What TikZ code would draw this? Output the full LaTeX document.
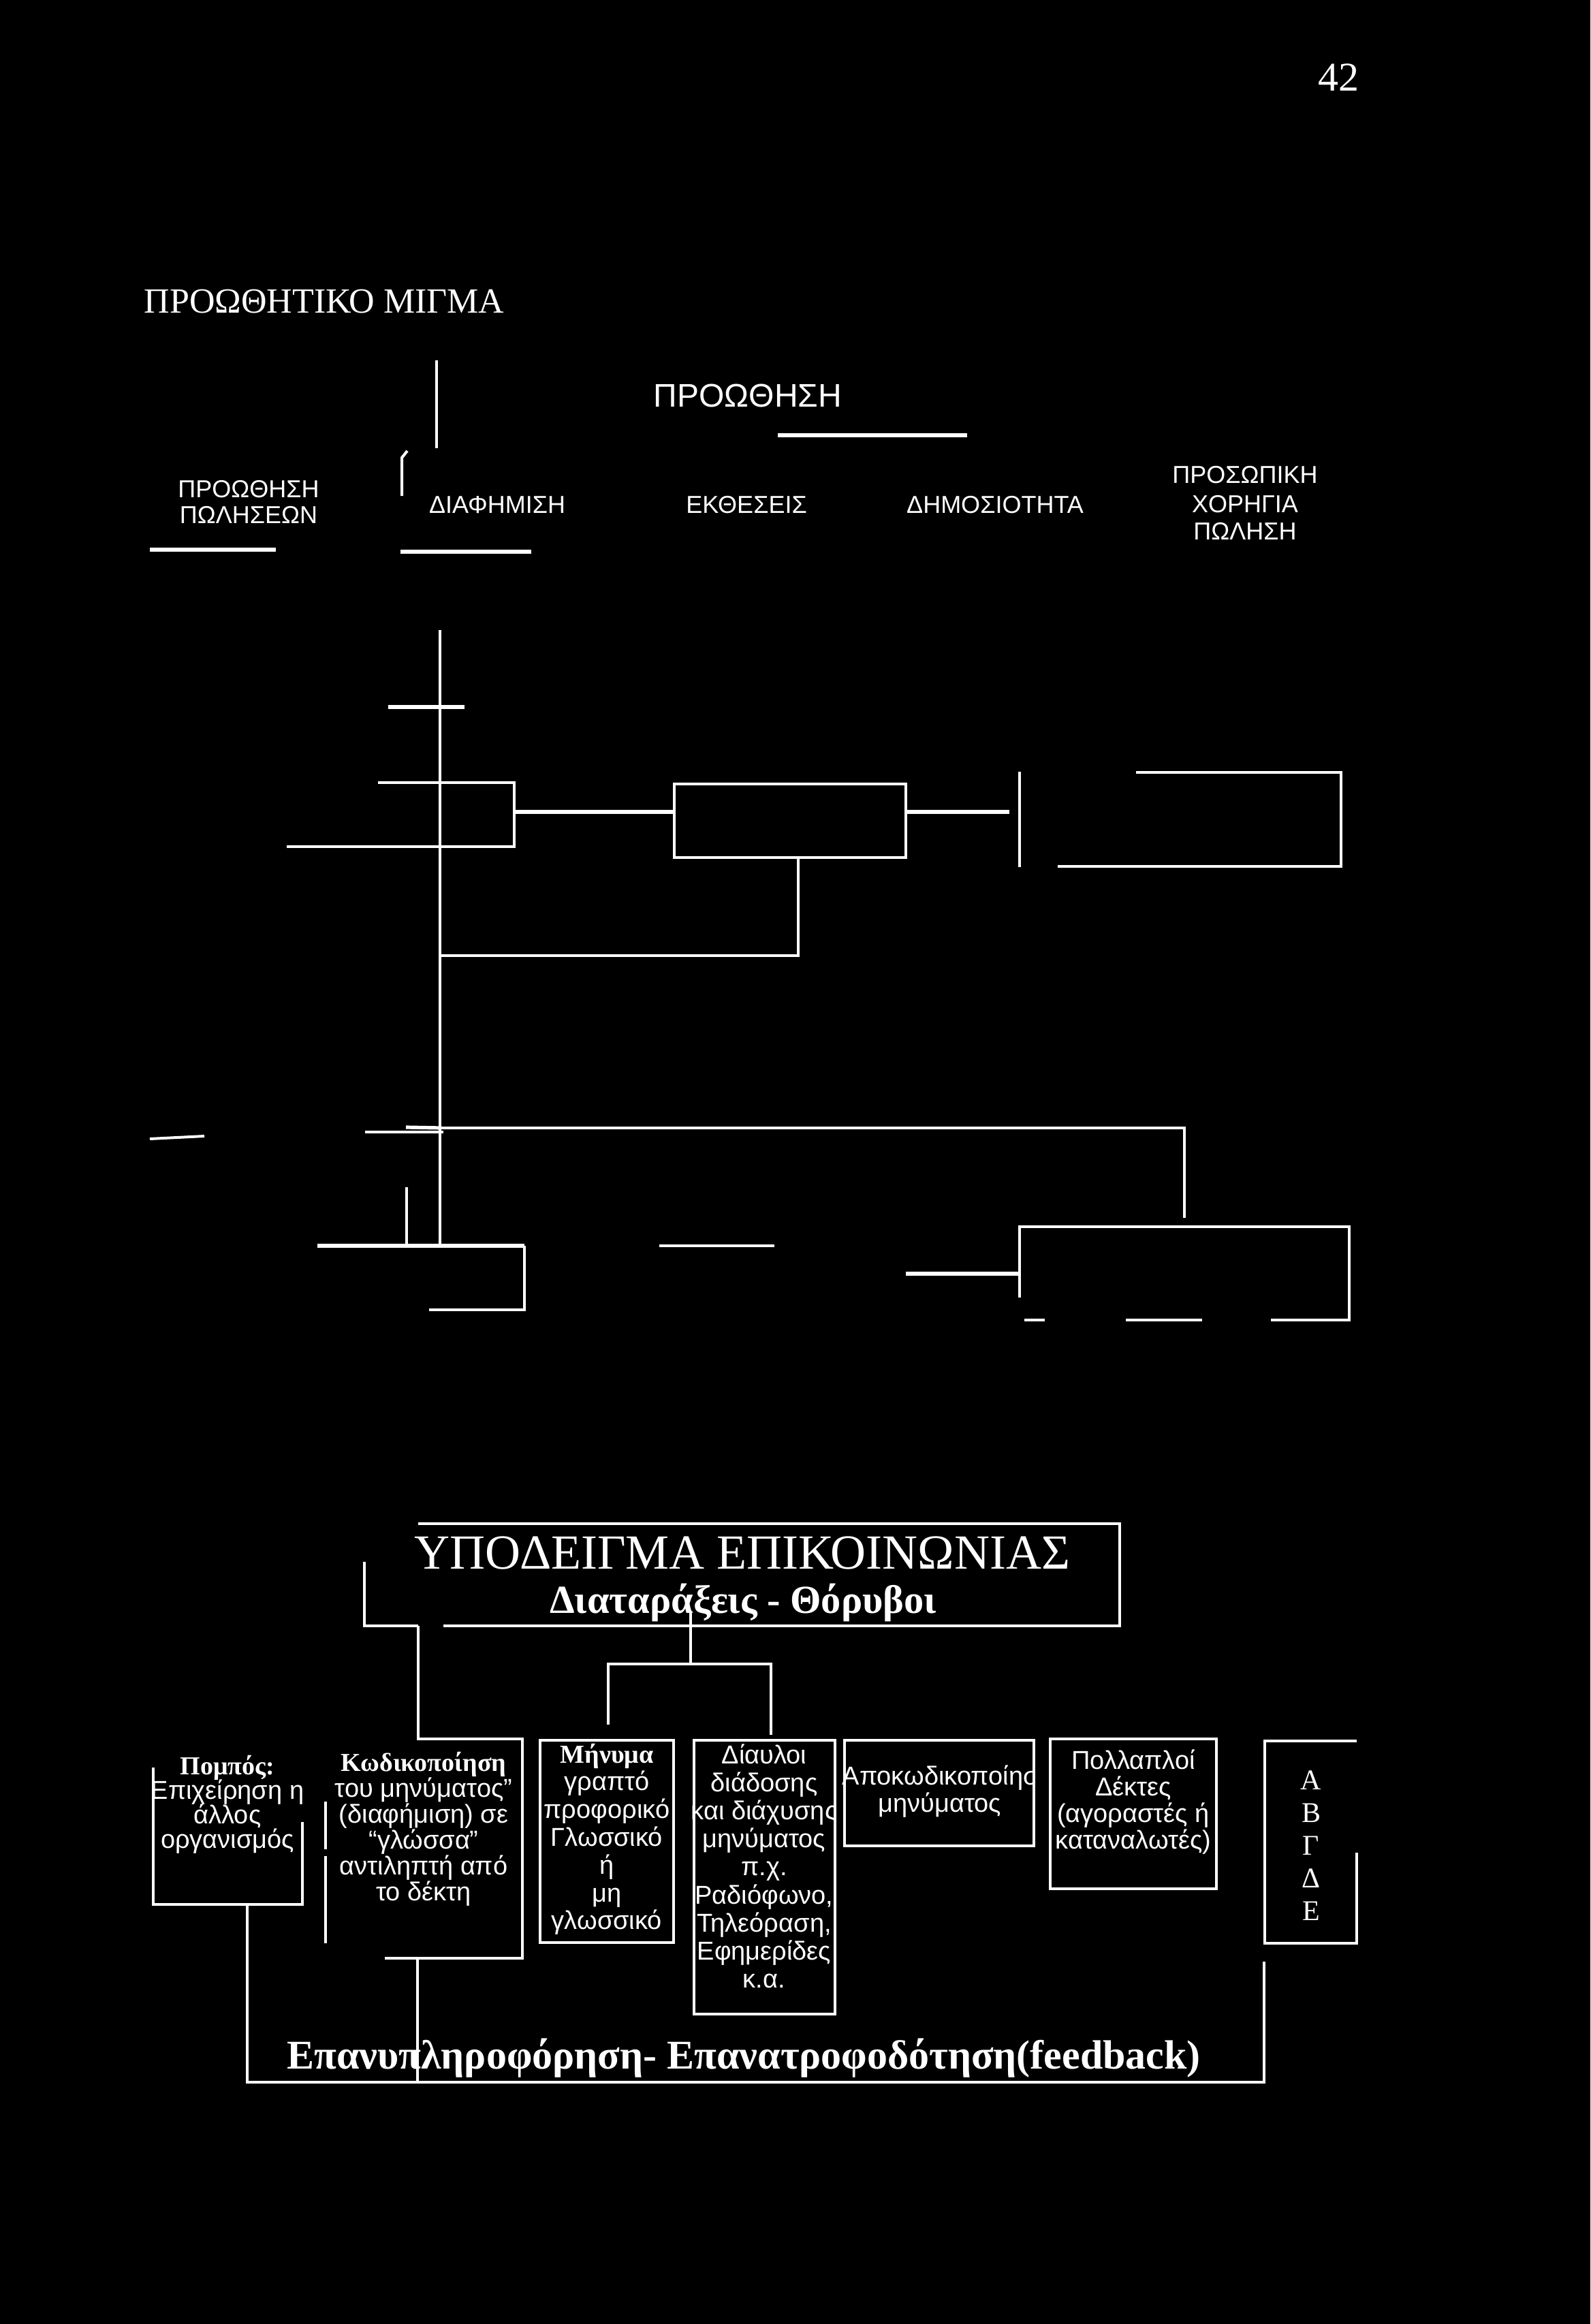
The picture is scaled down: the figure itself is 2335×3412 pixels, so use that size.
\documentclass[tikz,border=0pt]{standalone}
\usepackage{fontspec}
\setmainfont{Liberation Serif}
\setsansfont{Liberation Sans}
\usetikzlibrary{fit}
\begin{document}
\begin{tikzpicture}[x=0.25pt,y=-0.25pt,
  ln/.style={draw=white, line width=1pt},
  bx/.style={draw=white, line width=1.1pt, inner sep=0pt},
  lbl/.style={text=white, inner sep=0pt, anchor=base},
  sansS/.style={lbl, font=\fontsize{9}{10}\selectfont\sffamily},
  sansM/.style={lbl, font=\fontsize{9.5}{11}\selectfont\sffamily},
  serB/.style={lbl, font=\fontsize{9.5}{11}\selectfont\bfseries},
  serR/.style={lbl, font=\fontsize{10.5}{12}\selectfont}]
\fill[black] (0,0) rectangle (2335,3412);
\useasboundingbox (0,0) rectangle (2335,3412);

% ---------- top texts
\node[lbl, font=\fontsize{15}{16}\selectfont] (pnum) at (1965,134) {42};
\node[lbl, anchor=base west, font=\fontsize{13}{14}\selectfont] (title) at (211,460) {ΠΡΟΩΘΗΤΙΚΟ ΜΙΓΜΑ};
\node[lbl, font=\fontsize{12}{13}\selectfont\sffamily] (prom) at (1098,598) {ΠΡΟΩΘΗΣΗ};
\node[sansS] (pp1) at (365,730) {ΠΡΟΩΘΗΣΗ};
\node[sansS] (pp2) at (365,768) {ΠΩΛΗΣΕΩΝ};
\node[sansS] (diaf) at (730,753) {ΔΙΑΦΗΜΙΣΗ};
\node[sansS] (ekth) at (1096,753) {ΕΚΘΕΣΕΙΣ};
\node[sansS] (dimo) at (1461,753) {ΔΗΜΟΣΙΟΤΗΤΑ};
\node[sansS] (pr1) at (1828,710) {ΠΡΟΣΩΠΙΚΗ};
\node[sansS] (pr2) at (1828,752) {ΧΟΡΗΓΙΑ};
\node[sansS] (pr3) at (1828,792) {ΠΩΛΗΣΗ};

% ---------- top lines
\coordinate (a1) at (641,529); \coordinate (a2) at (641,658);
\draw[ln] (a1) -- (a2);
\coordinate (h1) at (590,728); \coordinate (h2) at (598,662);
\draw[ln] (h1) -- (590,672) -- (h2);
\coordinate (u1) at (1142,639); \coordinate (u2) at (1420,639);
\draw[ln, line width=1.3pt] (u1) -- (u2);
\coordinate (u3) at (220,807); \coordinate (u4) at (405,807);
\draw[ln, line width=1.3pt] (u3) -- (u4);
\coordinate (u5) at (588,810); \coordinate (u6) at (780,810);
\draw[ln, line width=1.3pt] (u5) -- (u6);

% ---------- middle diagram
\coordinate (m1) at (646,925); \coordinate (m2) at (646,1828);
\draw[ln] (m1) -- (m2);
\coordinate (k1) at (570,1038); \coordinate (k2) at (682,1038);
\draw[ln, line width=1.3pt] (k1) -- (k2);
% box 1 (open)
\coordinate (b1a) at (555,1149); \coordinate (b1b) at (755,1149);
\coordinate (b1c) at (755,1243); \coordinate (b1d) at (421,1243);
\draw[ln] (b1a) -- (b1b) -- (b1c) -- (b1d);
% box 2
\node[bx, fit={(990,1151)(1330,1259)}] (b2) {};
\draw[ln, line width=1.3pt] (755,1192) -- (b2.west |- 755,1192);
\coordinate (b2d) at (1172,1403);
\draw[ln] (b2.south -| b2d) -- (b2d) -- (646,1403);
% box 3 (partial)
\coordinate (b3l1) at (1497,1133); \coordinate (b3l2) at (1497,1273);
\draw[ln] (b3l1) -- (b3l2);
\draw[ln] (1668,1134) -- (1969,1134) -- (1969,1272) -- (1553,1272);
\draw[ln, line width=1.3pt] (b2.east |- 1330,1192) -- (1482,1192);

% lower-middle
\coordinate (n1) at (648,1656); \coordinate (n2) at (1739,1656); \coordinate (n3) at (1739,1788);
\draw[ln] (n1) -- (n2) -- (n3);
\draw[ln, line width=1.3pt] (596,1655) -- (n1);
\draw[ln] (536,1662) -- (651,1662);
\draw[ln] (220,1672) -- (300,1668);
\coordinate (s1) at (597,1743); \coordinate (s2) at (597,1828);
\draw[ln] (s1) -- (s2);
\coordinate (c1) at (466,1829); \coordinate (c2) at (770,1829);
\coordinate (c3) at (770,1923); \coordinate (c4) at (630,1923);
\draw[ln, line width=1.3pt] (c1) -- (c2);
\draw[ln] (c2) -- (c3) -- (c4);
\draw[ln, line width=0.8pt] (968,1829) -- (1137,1829);
% right box (partial)
\coordinate (r1) at (1497,1905); \coordinate (r2) at (1497,1801);
\coordinate (r3) at (1981,1801); \coordinate (r4) at (1981,1940);
\draw[ln] (r1) -- (r2) -- (r3) -- (r4);
\draw[ln] (1504,1938) -- (1534,1938);
\draw[ln] (1653,1938) -- (1765,1938);
\draw[ln] (1866,1938) -- (1981,1938);
\coordinate (r5) at (1330,1870);
\draw[ln, line width=1.4pt] (r5) -- (r2 |- r5);

% ---------- communication model
\draw[ln] (651,2387) -- (1644,2387) -- (1644,2237) -- (614,2237);
\draw[ln] (535,2293) -- (535,2387) -- (614,2387);
\node[lbl, font=\fontsize{18}{20}\selectfont] (ypo) at (1090,2303) {ΥΠΟΔΕΙΓΜΑ ΕΠΙΚΟΙΝΩΝΙΑΣ};
\node[lbl, font=\fontsize{14.6}{16}\selectfont\bfseries] (diat) at (1091,2368) {Διαταράξεις - Θόρυβοι};

\coordinate (d0) at (1014,2367); \coordinate (d1) at (1014,2443);
\draw[ln] (d0) -- (d1);
\draw[ln] (893,2532) -- (893,2443) -- (1132,2443) -- (1132,2547);

% Πομπός
\draw[ln] (225,2595) -- (225,2796) -- (444,2796) -- (444,2675);
\node[serB] (pom0) at (334,2605) {Πομπός:};
\foreach \t [count=\i from 1] in {{Επιχείρηση η}, {άλλος}, {οργανισμός}}
  \node[sansM] (pom\i) at (334,2605+36*\i) {\t};

% Κωδικοποίηση
\coordinate (kw0) at (614,2387);
\draw[ln] (kw0) -- (614,2553) -- (767,2553) -- (767,2875) -- (565,2875);
\draw[ln] (478,2645) -- (478,2715);
\draw[ln] (478,2725) -- (478,2853);
\node[serB] (kod0) at (622,2600) {Κωδικοποίηση};
\foreach \t [count=\i from 1] in {{του μηνύματος”}, {(διαφήμιση) σε}, {“γλώσσα”}, {αντιληπτή από}, {το δέκτη}}
  \node[sansM] (kod\i) at (622,2600+38*\i) {\t};

% Μήνυμα
\node[bx, fit={(793,2555)(989,2852)}] (min) {};
\node[serB] (mh0) at (891,2588) {Μήνυμα};
\foreach \t [count=\i from 1] in {{γραπτό}, {προφορικό}, {Γλωσσικό}, {ή}, {μη}, {γλωσσικό}}
  \node[sansM] (mh\i) at (891,2588+40.8*\i) {\t};

% Δίαυλοι
\node[bx, fit={(1019,2555)(1226,2957)}] (dia) {};
\foreach \t [count=\i from 0] in {{Δίαυλοι}, {διάδοσης}, {και διάχυσης}, {μηνύματος}, {π.χ.}, {Ραδιόφωνο,}, {Τηλεόραση,}, {Εφημερίδες}, {κ.α.}}
  \node[sansM] (dl\i) at (1122,2589+41.2*\i) {\t};

% Αποκωδικοποίηση
\node[bx, fit={(1240,2555)(1518,2710)}] (apo) {};
\begin{scope}
  \clip (1225,2560) rectangle (1516,2705);
  \node[sansM, anchor=base west] (apo1) at (1236,2620) {Αποκωδικοποίηση};
\end{scope}
\node[sansM] (apo2) at (1380,2660) {μηνύματος};

% Πολλαπλοί Δέκτες
\node[bx, fit={(1542,2553)(1786,2773)}] (dek) {};
\foreach \t [count=\i from 0] in {{Πολλαπλοί}, {Δέκτες}, {(αγοραστές ή}, {καταναλωτές)}}
  \node[lbl, font=\fontsize{9.5}{10}\selectfont\sffamily] (dk\i) at (1664,2597+39*\i) {\t};

% ΑΒΓΔΕ
\draw[ln] (1992,2556) -- (1857,2556) -- (1857,2853) -- (1992,2853) -- (1992,2720);
\foreach \t [count=\i from 0] in {Α, Β, Γ, Δ, Ε}
  \node[serR] (ab\i) at (1925,2627+48*\i) {\t};

% feedback
\coordinate (f0) at (363,2796); \coordinate (f1) at (363,3057);
\coordinate (f2) at (1856,3057); \coordinate (f3) at (1856,2880);
\draw[ln] (f0) -- (f1) -- (f2) -- (f3);
\draw[ln] (613,2875) -- (613,3057);
\node[lbl, font=\fontsize{15}{17}\selectfont\bfseries] (feed) at (1092,3037) {Επανυπληροφόρηση- Επανατροφοδότηση(feedback)};
\end{tikzpicture}
\end{document}
